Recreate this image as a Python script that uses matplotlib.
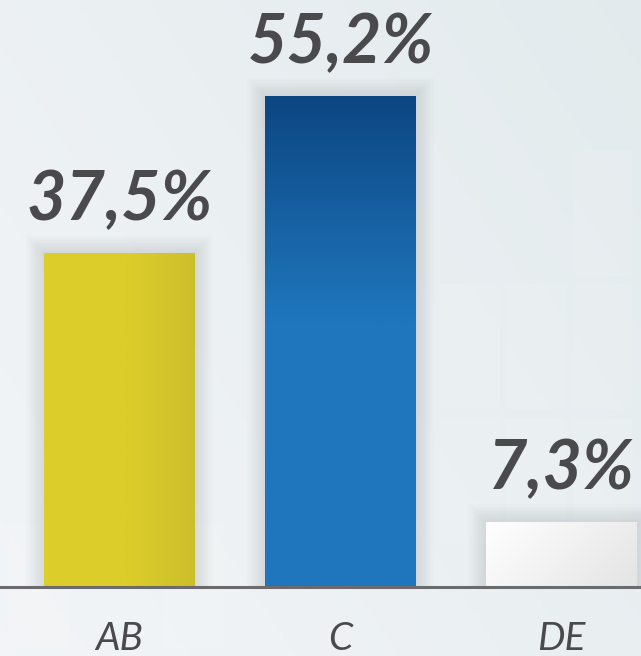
import numpy as np
import matplotlib
matplotlib.use("Agg")
from matplotlib import pyplot as plt
from matplotlib.patches import Rectangle

categories = ["AB", "C", "DE"]
values = [37.5, 55.2, 7.3]
value_labels = ["37,5%", "55,2%", "7,3%"]

# gradient colours per bar: (top-left, bottom-right)
top_colors = ["#dccd2a", "#0c4682", "#ffffff"]
bot_colors = ["#dccd2a", "#1f76bd", "#e6e6e6"]
right_colors = ["#cdbf2c", None, "#e4e4e4"]

txt = "#4a4a4c"
font = ["Lato", "DejaVu Sans"]

fig = plt.figure(figsize=(6.41, 6.56), dpi=100)
ax = fig.add_axes([0, 0, 1, 1])
px = 221.0
ax.set_xlim(-119.5 / px, (641 - 119.5) / px)
ax.set_ylim(-69 / 8.9, 587 / 8.9)
ax.axis("off")

# background
xx, yy = np.meshgrid(np.linspace(0, 1, 200), np.linspace(0, 1, 200))
c1 = np.array([0.95, 0.96, 0.97])
c2 = np.array([0.89, 0.92, 0.93])
t = (0.6 * xx + 0.4 * (1 - yy))[..., None]
bg = c1 * (1 - t) + c2 * t
ax.imshow(bg, extent=[*ax.get_xlim(), *ax.get_ylim()], origin="upper",
          aspect="auto", zorder=0)
# faint squares
for (x0, y0) in [(1.75, 5), (2.05, 5), (1.75, 20), (2.05, 20), (2.05, 35),
                 (1.45, 5), (1.45, 20), (-0.5, -7), (0.2, -7)]:
    ax.add_patch(Rectangle((x0, y0), 0.27, 14, facecolor="white", alpha=0.09,
                           edgecolor="none", zorder=0.5))

w = 151 / px
xs = np.arange(len(categories))
bars = ax.bar(xs, values, width=w, color="none", zorder=3)

def hexrgb(h):
    return np.array(matplotlib.colors.to_rgb(h))

for i, b in enumerate(bars):
    x0, h = b.get_x(), b.get_height()
    # soft shadow halo
    for k in range(8):
        pad = (k + 1) * 2.2 / px
        ax.add_patch(Rectangle((x0 - pad, 0), w + 2 * pad, h + pad * px / 8.9,
                               facecolor="#9aa0a6", alpha=0.035, edgecolor="none",
                               zorder=2))
    gx, gy = np.meshgrid(np.linspace(0, 1, 60), np.linspace(0, 1, 120))
    ct, cb = hexrgb(top_colors[i]), hexrgb(bot_colors[i])
    if i == 1:
        s = np.clip(gy * 2.2, 0, 1)[..., None]
        img = ct * (1 - s) + cb * s
    else:
        cr = hexrgb(right_colors[i])
        s = np.clip((gx - 0.55) / 0.45, 0, 1)[..., None]
        if i == 2:
            s = np.clip(0.7 * gx + 0.3 * gy, 0, 1)[..., None]
        img = ct * (1 - s) + cr * s
    im = ax.imshow(img, extent=[x0, x0 + w, 0, h], origin="upper",
                   aspect="auto", zorder=3)
    im.set_clip_path(b)
    ax.text(xs[i], h + 5.9, value_labels[i], ha="center", va="center",
            fontsize=49, fontweight="bold", fontstyle="italic", color=txt,
            family=font, zorder=4)
    ax.text(xs[i], -5.8, categories[i], ha="center", va="center",
            fontsize=28, fontstyle="italic", color=txt, family=font, zorder=4)

ax.axhline(0, color="#6b6b6d", lw=2.2, zorder=5)

fig.savefig("out.png", dpi=100)
